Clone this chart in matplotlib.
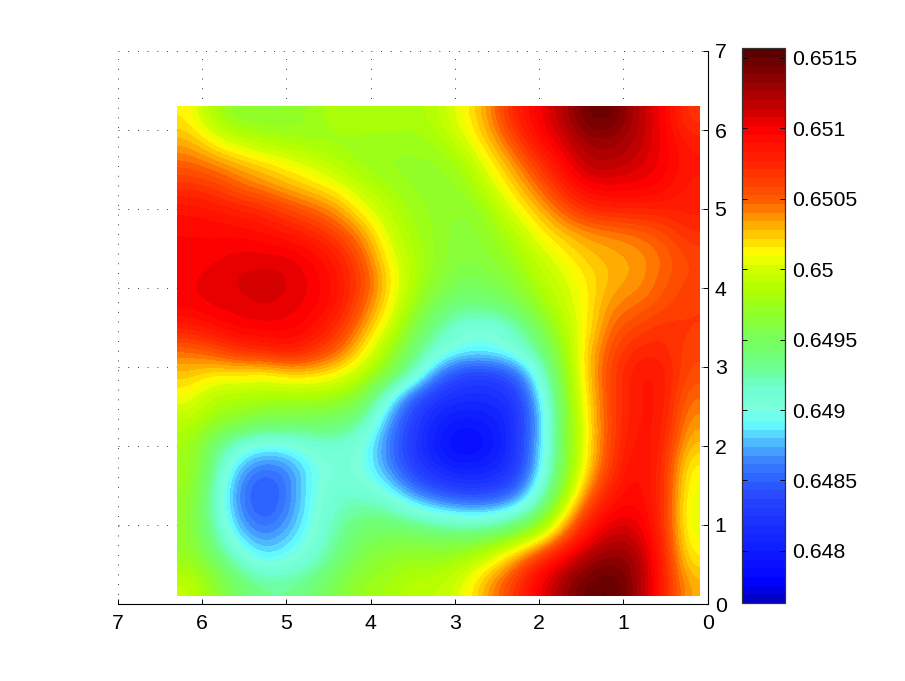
import matplotlib
matplotlib.use("Agg")
import matplotlib.pyplot as plt
from matplotlib.colors import LinearSegmentedColormap
import numpy as np

plt.rcParams['font.family'] = ['Liberation Sans', 'DejaVu Sans']

# values are (z - 0.6) * 10000, read by eye on a coarse grid, left to right = x 6.3 -> 0.1
row01 = [501.5,498,496.5,496.5,496.5,497.5,498.5,498.5,498.5,498,499,501,503.5,507.5,510,512,515,515,512,510,506.5]
row02 = [503,501,499.5,498.5,498,497.5,497.5,497.5,497.5,497.5,498,500,502.5,505.5,509,511,513,513,512,510,508]
row03 = [505,504,503,502,501,500,498.5,497.5,497,497,497,498,501,503.5,506.5,509.5,512,512,511,510,508.5]
row04 = [507,506.5,505,504,503,502,501,499,498,497,497,497,499.5,502,504.5,507.5,510,510,510,509.5,508]
row05 = [509,508.5,508,507.5,506,505,503.5,501,499,497.5,497,496.5,497.5,500.5,502.5,505,507,507.5,507.5,507.5,508]
row06 = [509.5,509.5,509.5,509,508.5,507.5,506,503.5,500,498,497,496,497,498.5,501,502.5,503.5,504,504.5,505.5,507]
row07 = [510,510,510.5,510.5,510.5,509.5,508,505,501,498.5,497,496,496.5,497.5,499.5,501,502.5,503,503.5,504.5,506]
row08 = [510,510.5,511,511.2,511,510,508.5,506,502,498.5,496.5,495,495.5,496.5,498.5,500,501.5,503,503.5,505,506]
row09 = [510,510.5,510.5,511,510.5,510,508.5,505,501.5,497.5,495,493.5,494,495,497.5,499.5,501.5,504,504.5,505.5,506.5]
row10 = [508,509,510,510,510,509,507,503.5,500,496,492.5,490.5,490,491.5,495,498.5,501.5,505,506,507,506.5]
row11 = [504.5,505.5,507,507.5,508.5,507,505,501.5,498,494,491,489.5,489.5,490.5,493,497.5,502.5,506,507.5,507.5,506]
row12 = [502.5,501.5,501.5,501,502,502,501,499,496,492,486,483,483,484.5,490,496.5,502.5,506.5,508.5,508.5,505.5]
row13 = [501,498.5,498.5,498,498,498,497.5,496,490,484.5,482,481.5,481.5,482,488,496,502,506.5,508.5,508.5,504.5]
row14 = [499,497.5,496.5,495.5,495,495,494.5,492.5,487,483,480.5,479.5,480,481.5,487,495.5,501.5,506.5,508.5,508.5,503.5]
row15 = [498,494,491,489.5,490,491,491.5,490,486,482.5,479.5,478,479,481.5,487.5,495.5,501.5,506.5,509,508,502.5]
row16 = [498,493,487.5,485.5,486.5,489.5,490.5,490,486.5,483,481,480,480.5,482,488,495.5,502,507,509.5,507.5,501]
row17 = [497.5,492,486,484,486,490,491.5,491,489.5,486,484,483,483,484.5,490,497,504,508.5,509.5,507.5,500.5]
row18 = [497,492,486.5,484.5,486.5,490,492,493.5,493,491.5,490,489,489,490.5,494,500.5,507,510,510,507.5,500]
row19 = [497,493,488.5,486.5,488,490.5,493,495,495.5,495.5,495,495,495.5,497.5,500,505,510,512,511.5,507.5,500.5]
row20 = [497.5,495,491.5,489,490,491.5,494,496,497,497.5,497.5,498.5,500.5,503.5,507.5,510.5,513,514,513,508,501.5]
row21 = [499.5,497,494.5,493,493,494,496,497.5,498,499,499,500.5,503.5,506.5,510,513,515,515.5,513,508,503]
rows = [row01,row02,row03,row04,row05,row06,row07,row08,row09,row10,row11,
        row12,row13,row14,row15,row16,row17,row18,row19,row20,row21]

axis_ticks = [0, 1, 2, 3, 4, 5, 6, 7]
cbar_ticks = [0.648, 0.6485, 0.649, 0.6495, 0.65, 0.6505, 0.651, 0.6515]
cbar_labels = ['0.648', '0.6485', '0.649', '0.6495', '0.65', '0.6505', '0.651', '0.6515']
zmin = 0.64763
zmax = 0.65157

# colours sampled off the reference colorbar: pixel row, rgb
bar_rows = [603, 587, 551, 500, 480, 463, 443, 425, 410, 390, 363, 339, 307, 290, 268,
            253, 240, 223, 210, 197, 165, 128, 100, 70, 48]
bar_rgb = [(0,0,200), (0,0,255), (15,30,255), (40,70,255), (45,100,255), (60,130,255),
           (80,190,255), (100,255,255), (125,255,220), (110,255,210), (110,255,130),
           (120,255,90), (150,255,30), (175,255,0), (210,255,0), (255,255,0), (255,220,0),
           (255,170,0), (255,130,0), (255,90,0), (255,40,0), (255,0,0), (190,0,0),
           (130,0,0), (90,0,0)]

W, H = 905, 681
z = np.array(rows) / 10000 + 0.6

fig = plt.figure(figsize=(W / 100, H / 100), dpi=100)
ax = fig.add_axes([117.7 / W, 1 - 604 / H, 590 / W, 553 / H])
cax = fig.add_axes([741.5 / W, 1 - 603 / H, 43.5 / W, 555 / H])

anchors = [((603 - r) / 555, tuple(c / 255 for c in rgb)) for r, rgb in zip(bar_rows, bar_rgb)]
cmap = LinearSegmentedColormap.from_list('bar', anchors, N=64)

im = ax.imshow(z, cmap=cmap, vmin=zmin, vmax=zmax, extent=(6.3, 0.1, 0.1, 6.3),
               origin='upper', aspect='auto', interpolation='bicubic',
               interpolation_stage='data', zorder=2)

ax.set_xlim(7, 0)
ax.set_ylim(0, 7)
ax.set_xticks(axis_ticks)
ax.set_yticks(axis_ticks)
ax.yaxis.tick_right()
ax.spines['top'].set_visible(False)
ax.spines['left'].set_visible(False)
ax.spines['right'].set_linewidth(0.8)
ax.spines['bottom'].set_linewidth(0.8)
ax.tick_params(axis='both', direction='in', length=3.6, width=0.7, labelsize=15.3)
ax.tick_params(axis='x', pad=7)
ax.tick_params(axis='y', pad=5)
ax.grid(True, color='#333333', linewidth=0.7, linestyle=(0, (1, 9)), zorder=1)
ax.set_axisbelow(True)

cb = fig.colorbar(im, cax=cax, ticks=cbar_ticks)
cb.ax.set_yticklabels(cbar_labels)
cb.ax.tick_params(axis='y', which='both', left=True, right=True, direction='in',
                  length=3.6, width=0.7, labelsize=15.3, pad=5)
cb.outline.set_linewidth(0.9)
cb.outline.set_edgecolor('#333333')

fig.savefig('out.png', dpi=100)
